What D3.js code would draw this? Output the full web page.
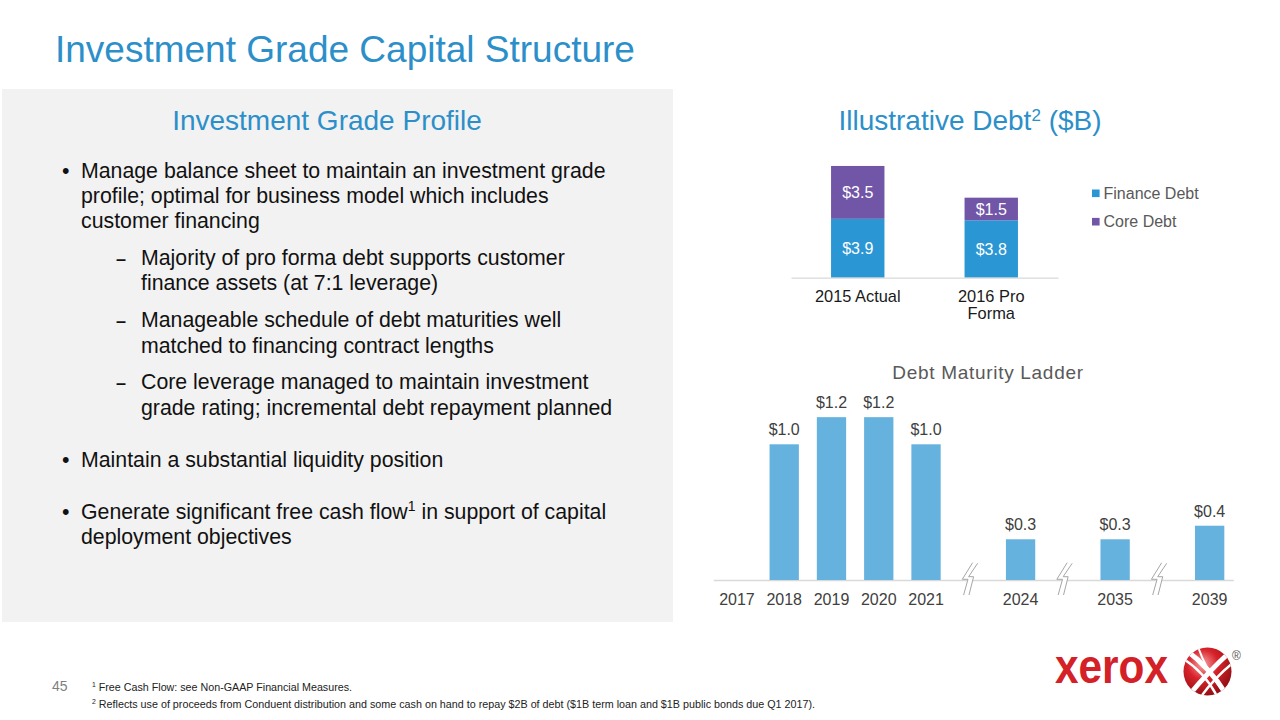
<!DOCTYPE html>
<html>
<head>
<meta charset="utf-8">
<script src="https://cdn.jsdelivr.net/npm/d3@7"></script>
<style>
  html, body { margin: 0; padding: 0; background: #fff; }
  svg { display: block; }
  text { font-family: "Liberation Sans", Arial, sans-serif; }
</style>
</head>
<body>
<svg id="chart" width="1280" height="720"></svg>
<script>
// ---------------- DATA ----------------
const debtCategories = ["2015 Actual", "2016 Pro Forma"];
const financeDebt = [3.9, 3.8];
const coreDebt = [3.5, 1.5];
const debtSeries = ["Finance Debt", "Core Debt"];

const maturityYears = ["2017", "2018", "2019", "2020", "2021", "2024", "2035", "2039"];
const maturityValues = [0, 1.0, 1.2, 1.2, 1.0, 0.3, 0.3, 0.4];
const breakAfterYears = ["2021", "2024", "2035"];

const bulletLines = [
  { lvl: 0, lines: ["Manage balance sheet to maintain an investment grade", "profile; optimal for business model which includes", "customer financing"] },
  { lvl: 1, lines: ["Majority of pro forma debt supports customer", "finance assets (at 7:1 leverage)"] },
  { lvl: 1, lines: ["Manageable schedule of debt maturities well", "matched to financing contract lengths"] },
  { lvl: 1, lines: ["Core leverage managed to maintain investment", "grade rating; incremental debt repayment planned"] },
  { lvl: 0, lines: ["Maintain a substantial liquidity position"] },
  { lvl: 0, lines: ["Generate significant free cash flow\u00B9 in support of capital", "deployment objectives"] }
];

// ---------------- STYLE ----------------
const BLUE_TITLE = "#2c8fc9";
const C_FIN = "#2a96d3";
const C_CORE = "#7155a7";
const C_MAT = "#65b2df";
const AXIS_GRAY = "#d9d9d9";

const svg = d3.select("#chart");

// background panel
svg.append("rect").attr("x", 2).attr("y", 89).attr("width", 671).attr("height", 533).attr("fill", "#f2f2f2");

// main title
svg.append("text").attr("x", 55).attr("y", 61.5).attr("font-size", 37).attr("fill", BLUE_TITLE)
  .text("Investment Grade Capital Structure");

// left subtitle
svg.append("text").attr("x", 327).attr("y", 129.5).attr("text-anchor", "middle")
  .attr("font-size", 28).attr("fill", BLUE_TITLE).text("Investment Grade Profile");

// right subtitle
const st = svg.append("text").attr("x", 970).attr("y", 129.5).attr("text-anchor", "middle")
  .attr("font-size", 28).attr("fill", BLUE_TITLE);
st.append("tspan").text("Illustrative Debt");
st.append("tspan").attr("font-size", 17).attr("dy", -9).text("2");
st.append("tspan").attr("dy", 9).text(" ($B)");

// ---------------- LEFT TEXT ----------------
const baselines = [[178, 203, 228], [265, 290], [327, 353], [389, 415], [467], [519, 544]];
bulletLines.forEach((b, i) => {
  const g = svg.append("g");
  const xMark = b.lvl === 0 ? 62 : 116;
  const xText = b.lvl === 0 ? 81 : 141;
  g.append("text").attr("x", xMark).attr("y", baselines[i][0]).attr("font-size", b.lvl === 0 ? 21.3 : 18)
    .attr("font-weight", b.lvl === 0 ? "normal" : "bold").attr("fill", "#111")
    .text(b.lvl === 0 ? "\u2022" : "\u2013");
  b.lines.forEach((ln, j) => {
    const t = g.append("text").attr("x", xText).attr("y", baselines[i][j]).attr("font-size", 21.3).attr("fill", "#111");
    if (ln.includes("\u00B9")) {
      const parts = ln.split("\u00B9");
      t.append("tspan").text(parts[0]);
      t.append("tspan").attr("font-size", 14).attr("dy", -8).text("1");
      t.append("tspan").attr("dy", 8).text(parts[1]);
    } else t.text(ln);
  });
});

// ---------------- TOP STACKED CHART ----------------
const xTop = d3.scaleBand().domain(debtCategories).range([791, 1058]).paddingInner(0.6).paddingOuter(0.3);
const yTop = d3.scaleLinear().domain([0, 8]).range([277.7, 277.7 - 8 * 15.1]);
const stackRows = debtCategories.map((c, i) => ({ cat: c, finance: financeDebt[i], core: coreDebt[i] }));
const stacked = d3.stack().keys(["finance", "core"])(stackRows);
const colTop = { finance: C_FIN, core: C_CORE };

stacked.forEach(layer => {
  const g = svg.append("g");
  g.selectAll("rect").data(layer).join("rect")
    .attr("x", d => xTop(d.data.cat)).attr("width", xTop.bandwidth())
    .attr("y", d => yTop(d[1])).attr("height", d => yTop(d[0]) - yTop(d[1]))
    .attr("fill", colTop[layer.key]);
  g.selectAll("text").data(layer).join("text")
    .attr("x", d => xTop(d.data.cat) + xTop.bandwidth() / 2)
    .attr("y", d => (yTop(d[0]) + yTop(d[1])) / 2 + 5.8)
    .attr("text-anchor", "middle").attr("font-size", 16).attr("fill", "#fff")
    .text(d => "$" + (d[1] - d[0]).toFixed(1));
});

const axTop = svg.append("g").attr("transform", "translate(0,277.7)")
  .call(d3.axisBottom(xTop).tickSize(0).tickSizeOuter(0).tickPadding(12).tickFormat(() => ""));
axTop.select(".domain").attr("stroke", AXIS_GRAY).attr("stroke-width", 1.3);
axTop.selectAll(".tick").each(function (d) {
  const t = d3.select(this).select("text").attr("font-size", 16.4).attr("fill", "#1a1a1a")
    .attr("font-family", "Liberation Sans, Arial, sans-serif").attr("dy", null).attr("y", 24);
  const parts = d === "2016 Pro Forma" ? ["2016 Pro", "Forma"] : [d];
  parts.forEach((p, k) => t.append("tspan").attr("x", 0).attr("dy", k === 0 ? 0 : 17.5).text(p));
});

// legend
const lg = svg.append("g");
debtSeries.forEach((s, i) => {
  const yy = 193.3 + i * 28.4;
  lg.append("rect").attr("x", 1092).attr("y", yy - 3.8).attr("width", 7.6).attr("height", 7.6)
    .attr("fill", i === 0 ? C_FIN : C_CORE);
  lg.append("text").attr("x", 1103.5).attr("y", yy + 5.7).attr("font-size", 16).attr("fill", "#595959").text(s);
});

// ---------------- BOTTOM MATURITY CHART ----------------
const slots = [];
maturityYears.forEach(y => { slots.push(y); if (breakAfterYears.includes(y)) slots.push("gap-" + y); });
const xBot = d3.scaleBand().domain(slots).range([713.3, 1233.3]).paddingInner(0.38).paddingOuter(0.19);
const yBot = d3.scaleLinear().domain([0, 1.2]).range([580, 580 - 1.2 * 135.7]);
const matData = maturityYears.map((y, i) => ({ year: y, v: maturityValues[i] }));

svg.append("text").attr("x", 988).attr("y", 379).attr("text-anchor", "middle")
  .attr("font-size", 19).attr("fill", "#595959")
  .attr("font-family", "Roboto, 'Liberation Sans', sans-serif").attr("letter-spacing", 0.7)
  .text("Debt Maturity Ladder");

const axBot = svg.append("g").attr("transform", "translate(0,580)")
  .call(d3.axisBottom(xBot).tickValues(maturityYears).tickSize(0).tickSizeOuter(0).tickPadding(14));
axBot.select(".domain").attr("stroke", AXIS_GRAY).attr("stroke-width", 1.5);
axBot.selectAll(".tick text").attr("font-size", 16).attr("fill", "#404040")
  .attr("font-family", "Liberation Sans, Arial, sans-serif");

const barsG = svg.append("g");
barsG.selectAll("rect").data(matData.filter(d => d.v > 0)).join("rect")
  .attr("x", d => xBot(d.year)).attr("width", xBot.bandwidth())
  .attr("y", d => yBot(d.v)).attr("height", d => yBot(0) - yBot(d.v))
  .attr("fill", C_MAT);
barsG.selectAll("text").data(matData.filter(d => d.v > 0)).join("text")
  .attr("x", d => xBot(d.year) + xBot.bandwidth() / 2).attr("y", d => yBot(d.v) - 9)
  .attr("text-anchor", "middle").attr("font-size", 16).attr("fill", "#404040")
  .text(d => "$" + d.v.toFixed(1));

// axis break marks
const lineA = [[2.3, -17.3], [-8, -0.7], [-2.3, -0.7], [-6.7, 15]];
const lineB = [[7.3, -16.7], [-1.7, -3.3], [3.3, -3.3], [-1.3, 15]];
slots.filter(s => s.startsWith("gap-")).forEach(s => {
  const cx = xBot(s) + xBot.bandwidth() / 2 - 3, cy = 580;
  const g = svg.append("g").attr("transform", `translate(${cx},${cy})`);
  g.append("polygon").attr("points", lineA.concat(lineB.slice().reverse()).map(p => p.join(",")).join(" "))
    .attr("fill", "#fff");
  [lineA, lineB].forEach(L => g.append("polyline").attr("points", L.map(p => p.join(",")).join(" "))
    .attr("fill", "none").attr("stroke", "#a6a6a6").attr("stroke-width", 1));
});

// ---------------- FOOTER ----------------
svg.append("text").attr("x", 52).attr("y", 691).attr("font-size", 14).attr("fill", "#7f7f7f").text("45");
const fn = [
  { y: 691, sup: "1", txt: " Free Cash Flow: see Non-GAAP Financial Measures.", len: 260 },
  { y: 708, sup: "2", txt: " Reflects use of proceeds from Conduent distribution and some cash on hand to repay $2B of debt ($1B term loan and $1B public bonds due Q1 2017).", len: 723 }
];
fn.forEach(f => {
  const t = svg.append("text").attr("x", 92).attr("y", f.y).attr("font-size", 11).attr("fill", "#222")
    .attr("font-family", "'Liberation Sans Narrow', 'Liberation Sans', Arial, sans-serif")
    .attr("textLength", f.len).attr("lengthAdjust", "spacingAndGlyphs");
  t.append("tspan").attr("font-size", 7).attr("dy", -4).text(f.sup);
  t.append("tspan").attr("dy", 4).text(f.txt);
});

// Xerox logo
const logo = svg.append("g");
logo.append("text").attr("x", 1055).attr("y", 683.3).attr("font-size", 48).attr("font-weight", "bold")
  .attr("fill", "#d42027").attr("textLength", 113).attr("lengthAdjust", "spacingAndGlyphs").text("xerox");
const defs = svg.append("defs");
const rg = defs.append("radialGradient").attr("id", "sph").attr("cx", "40%").attr("cy", "35%").attr("r", "70%");
rg.append("stop").attr("offset", "0%").attr("stop-color", "#f7a5a5");
rg.append("stop").attr("offset", "45%").attr("stop-color", "#d8232a");
rg.append("stop").attr("offset", "100%").attr("stop-color", "#8c0d12");
defs.append("clipPath").attr("id", "sphclip").append("circle").attr("cx", 1207.5).attr("cy", 671.5).attr("r", 24);
logo.append("circle").attr("cx", 1207.5).attr("cy", 671.5).attr("r", 24).attr("fill", "url(#sph)");
const lines = logo.append("g").attr("clip-path", "url(#sphclip)").attr("fill", "none").attr("stroke", "#fff");
lines.append("path").attr("d", "M1186,650 Q1210,668 1226,694").attr("stroke-width", 5);
lines.append("path").attr("d", "M1182,658 Q1205,672 1218,698").attr("stroke-width", 2.5);
lines.append("path").attr("d", "M1230,652 Q1208,672 1190,694").attr("stroke-width", 5);
lines.append("path").attr("d", "M1234,662 Q1214,678 1200,698").attr("stroke-width", 2.5);
lines.append("path").attr("d", "M1198,647 Q1206,670 1222,690").attr("stroke-width", 2);
logo.append("text").attr("x", 1232).attr("y", 660).attr("font-size", 12).attr("fill", "#555").text("\u00AE");
</script>
</body>
</html>
